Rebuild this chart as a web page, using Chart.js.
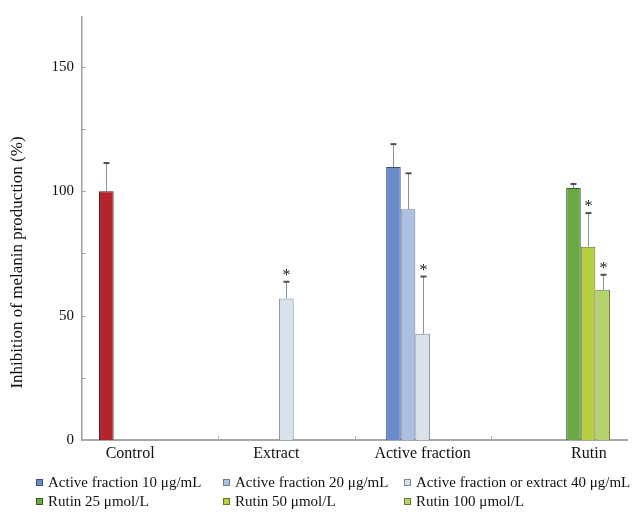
<!DOCTYPE html>
<html>
<head>
<meta charset="utf-8">
<script src="https://cdn.jsdelivr.net/npm/chart.js@4/dist/chart.umd.min.js"></script>
<style>
    html, body { margin: 0; padding: 0; background: #fff; }
    #wrap { position: relative; width: 633px; height: 514px; }
    #legend { position: absolute; left: 0; top: 0; width: 633px; height: 514px; pointer-events: none;
              font-family: "Liberation Serif", "Times New Roman", serif; font-size: 15px; color: #111; }
    .item { position: absolute; white-space: nowrap; line-height: 19px; }
    .item i { display: inline-block; width: 5px; height: 5px; border: 1px solid #555; margin-right: 5px; vertical-align: 1px; }
</style>
</head>
<body>
<div id="wrap">
    <canvas id="melaninChart" width="633" height="514"></canvas>
    <div id="legend"></div>
</div>
<script>
const categories = ['Control', 'Extract', 'Active fraction', 'Rutin'];
const seriesNames = ['Control', 'Active fraction 10 μg/mL', 'Active fraction 20 μg/mL',
    'Active fraction or extract 40 μg/mL', 'Rutin 25 μmol/L', 'Rutin 50 μmol/L', 'Rutin 100 μmol/L'];

// mean values (%)
const control  = [100, null, null, null];
const af10     = [null, null, 109.7, null];
const af20     = [null, null, 92.7, null];
const af40     = [null, 56.9, 42.7, null];
const rutin25  = [null, null, null, 101.3];
const rutin50  = [null, null, null, 77.7];
const rutin100 = [null, null, null, 60.4];

// upper error (SD)
const controlErr  = [11.3, null, null, null];
const af10Err     = [null, null, 9.2, null];
const af20Err     = [null, null, 14.5, null];
const af40Err     = [null, 6.7, 23, null];
const rutin25Err  = [null, null, null, 1.6];
const rutin50Err  = [null, null, null, 13.5];
const rutin100Err = [null, null, null, 6];

// significance marks (*)
const af40Sig     = [false, true, true, false];
const rutin50Sig  = [false, false, false, true];
const rutin100Sig = [false, false, false, true];
const noSig       = [false, false, false, false];

const yTicks = [0, 50, 100, 150];

const fills   = ['#b3232b', '#6a8bc9', '#abc0e3', '#d9e1eb', '#6aa844', '#b8cf42', '#b4d36c'];
const borders = ['#4a1518', '#3c4f78', '#6b7a96', '#7f8894', '#3a5e26', '#66731f', '#66783a'];

const values = [control, af10, af20, af40, rutin25, rutin50, rutin100];
const errors = [controlErr, af10Err, af20Err, af40Err, rutin25Err, rutin50Err, rutin100Err];
const sigs   = [noSig, noSig, noSig, af40Sig, noSig, rutin50Sig, rutin100Sig];

const serif = '"Liberation Serif", "Times New Roman", serif';

// shifts the category text a little, as in the original figure
const labelPad = { 'Control': [0, 10], 'Extract': [0, 5], 'Active fraction': [0, 0], 'Rutin': [15, 0] };

const errorBarPlugin = {
    id: 'errorBars',
    afterDatasetsDraw(chart) {
        const ctx = chart.ctx;
        const y = chart.scales.y;
        const x = chart.scales.x;
        const area = chart.chartArea;
        ctx.save();

        // small tick marks inside the axes
        ctx.strokeStyle = '#b0b0b0';
        ctx.lineWidth = 1;
        y.ticks.forEach(t => {
            if (t.value % 25 !== 0) return;
            const py = Math.round(y.getPixelForValue(t.value)) + 0.5;
            ctx.beginPath();
            ctx.moveTo(area.left, py);
            ctx.lineTo(area.left + 4, py);
            ctx.stroke();
        });
        const half = (x.getPixelForValue(1) - x.getPixelForValue(0)) / 2;
        for (let i = 0; i < categories.length - 1; i++) {
            const px = Math.round(x.getPixelForValue(i) + half) + 0.5;
            ctx.beginPath();
            ctx.moveTo(px, area.bottom);
            ctx.lineTo(px, area.bottom - 4);
            ctx.stroke();
        }

        values.forEach((series, d) => {
            const meta = chart.getDatasetMeta(d);
            series.forEach((v, i) => {
                if (v === null || errors[d][i] === null) return;
                const bar = meta.data[i];
                const top = y.getPixelForValue(v + errors[d][i]);
                const bx = Math.round(bar.x) + 0.5;
                ctx.strokeStyle = '#909090';
                ctx.lineWidth = 1;
                ctx.beginPath();
                ctx.moveTo(bx, bar.y);
                ctx.lineTo(bx, top);
                ctx.stroke();
                ctx.strokeStyle = '#505050';
                ctx.lineWidth = 2;
                ctx.beginPath();
                ctx.moveTo(bx - 3, top);
                ctx.lineTo(bx + 3, top);
                ctx.stroke();
                if (sigs[d][i]) {
                    ctx.fillStyle = '#222';
                    ctx.font = '16px ' + serif;
                    ctx.textAlign = 'center';
                    ctx.textBaseline = 'alphabetic';
                    ctx.fillText('*', bx, top - 2);
                }
            });
        });
        ctx.restore();
    }
};

const datasets = values.map((v, d) => ({
    label: seriesNames[d],
    data: v,
    backgroundColor: fills[d],
    borderColor: borders[d],
    borderWidth: 1,
    borderSkipped: 'bottom',
    categoryPercentage: 0.75,
    barPercentage: 1.0,
}));

const ctx = document.getElementById('melaninChart').getContext('2d');
const chart = new Chart(ctx, {
    type: 'bar',
    data: { labels: categories, datasets: datasets },
    options: {
        responsive: false,
        animation: false,
        layout: { padding: { left: 0, right: 6, top: 15, bottom: 0 } },
        plugins: {
            legend: { display: false },
            tooltip: { enabled: false },
        },
        scales: {
            x: {
                grid: { display: false, drawTicks: false },
                border: { display: true, color: '#a8a8a8', width: 2 },
                ticks: {
                    color: '#111',
                    font: { family: serif, size: 16 },
                    padding: 4,
                    maxRotation: 0,
                    autoSkip: false,
                    callback: function (val, i) {
                        const name = categories[i];
                        const p = labelPad[name];
                        return '\u00a0'.repeat(p[0]) + name + '\u00a0'.repeat(p[1]);
                    },
                },
                afterFit: scale => { scale.height = 74; },
            },
            y: {
                min: 0,
                max: 170,
                grid: { display: false, drawTicks: false },
                border: { display: true, color: '#a0a0a0', width: 1.5 },
                ticks: {
                    stepSize: 25,
                    color: '#111',
                    font: { family: serif, size: 15 },
                    padding: 8,
                    callback: v => yTicks.includes(v) ? v : '',
                },
                title: {
                    display: true,
                    text: 'Inhibition of melanin production (%)' + '\u00a0'.repeat(16),
                    color: '#111',
                    font: { family: serif, size: 17 },
                    padding: { top: 7, bottom: 0 },
                },
                afterFit: scale => { scale.width = 82; },
            },
        },
    },
    plugins: [errorBarPlugin],
});

// legend (Control is not listed in the original)
const legendCols = [36, 223, 404];
const legendRows = [473, 492];
const legendEl = document.getElementById('legend');
[1, 2, 3, 4, 5, 6].forEach((d, k) => {
    const item = document.createElement('div');
    item.className = 'item';
    item.style.left = legendCols[k % 3] + 'px';
    item.style.top = legendRows[Math.floor(k / 3)] + 'px';
    const sw = document.createElement('i');
    sw.style.background = fills[d];
    sw.style.borderColor = borders[d];
    item.appendChild(sw);
    item.appendChild(document.createTextNode(seriesNames[d]));
    legendEl.appendChild(item);
});
</script>
</body>
</html>
